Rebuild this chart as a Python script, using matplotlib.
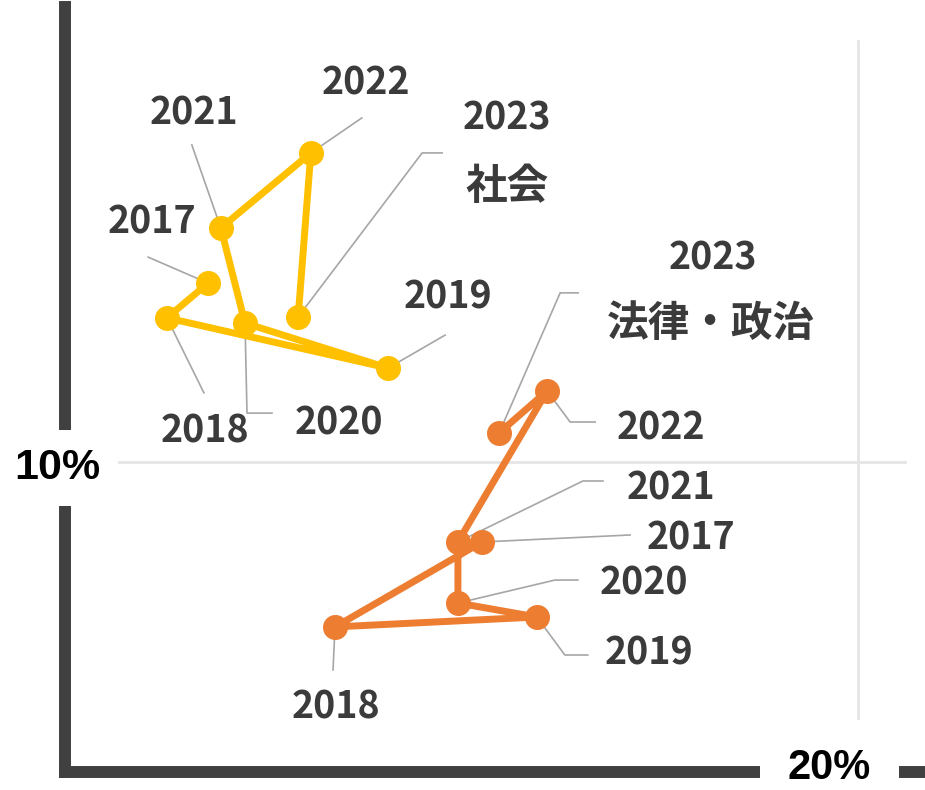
import matplotlib.pyplot as plt

# data (percent)
years = [2017, 2018, 2019, 2020, 2021, 2022, 2023]

social_x = [3.61, 2.57, 8.15, 4.54, 3.93, 6.20, 5.88]
social_y = [15.77, 14.65, 13.03, 14.48, 17.55, 19.97, 14.68]

law_x = [10.52, 6.81, 11.90, 9.91, 9.91, 12.16, 10.95]
law_y = [7.42, 4.68, 5.00, 5.45, 7.42, 12.29, 10.94]

series_names = ["社会", "法律・政治"]
colors = ["#FFC000", "#ED7D31"]

# label placement: text offset (px, y down) and leader path (px) per year
social_labels = {
    2017: ((-56, -61), [(0, 0), (-60, -26)]),
    2018: ((38, 113), [(0, 0), (37, 75)]),
    2019: ((60, -71), [(0, 0), (57, -33)]),
    2020: ((94, 100), [(0, 0), (2, 90), (27, 90)]),
    2021: ((-27, -115), [(0, 0), (-29, -83)]),
    2022: ((55, -70), [(0, 0), (51, -35)]),
    2023: ((209, -199), [(0, 0), (124, -164), (144, -164)]),
}
social_name_offset = (209, -130)

law_labels = {
    2017: ((209, -4), [(0, 0), (148, -7)]),
    2018: ((1, 80), [(0, 0), (-2, 43)]),
    2019: ((112, 36), [(0, 0), (28, 38), (51, 38)]),
    2020: ((186, -20), [(0, 0), (97, -23), (120, -23)]),
    2021: ((213, -54), [(0, 0), (125, -61), (145, -61)]),
    2022: ((114, 37), [(0, 0), (23, 31), (48, 31)]),
    2023: ((214, -175), [(0, 0), (61, -140), (79, -140)]),
}
law_name_offset = (212, -109)

label_font = ["Noto Sans CJK JP", "DejaVu Sans"]
label_color = "#3b3b3b"
leader_color = "#a6a6a6"
axis_color = "#404040"

fig = plt.figure(figsize=(9.25, 7.9), dpi=100)
ax = fig.add_axes([65 / 925, 18 / 790, 860 / 925, 765 / 790])
ax.set_xlim(0, 860 / 39.65)
ax.set_ylim(0, 765 / 31)
ax.set_xticks([])
ax.set_yticks([])

for side in ["top", "right"]:
    ax.spines[side].set_visible(False)
for side in ["left", "bottom"]:
    ax.spines[side].set_color(axis_color)
    ax.spines[side].set_linewidth(8.6)

# light gridlines at 10% and 20%
ax.axhline(10, xmin=0.052, xmax=0.977, color="#e5e5e5", lw=2, zorder=0)
ax.axvline(20, ymin=0.038, ymax=0.956, color="#e5e5e5", lw=2, zorder=0)


def shift(x, y, dx, dy):
    px, py = ax.transData.transform((x, y))
    return ax.transData.inverted().transform((px + dx, py - dy))


def draw_series(xs, ys, color, labels, name, name_offset):
    ax.plot(xs, ys, color=color, lw=5, marker="o", markersize=17,
            solid_joinstyle="round", solid_capstyle="round", zorder=3)
    for x, y, yr in zip(xs, ys, years):
        text_off, path = labels[yr]
        pts = [shift(x, y, dx, dy) for dx, dy in path]
        ax.plot([p[0] for p in pts], [p[1] for p in pts],
                color=leader_color, lw=1.2, zorder=2)
        tx, ty = shift(x, y, *text_off)
        ax.text(tx, ty, str(yr), ha="center", va="center", fontsize=27,
                fontweight="bold", family=label_font, color=label_color)
    # series name under the 2023 label
    nx, ny = shift(xs[-1], ys[-1], *name_offset)
    ax.text(nx, ny, name, ha="center", va="center", fontsize=30,
            fontweight="bold", family=label_font, color=label_color)


draw_series(social_x, social_y, colors[0], social_labels,
            series_names[0], social_name_offset)
draw_series(law_x, law_y, colors[1], law_labels,
            series_names[1], law_name_offset)

# axis value labels, white box cuts a gap in the axis line
ax.text(-0.2, 9.8, "10%", ha="center", va="center", fontsize=31,
        fontweight="bold", family="Liberation Sans", color="black",
        bbox=dict(facecolor="white", edgecolor="none", pad=13), zorder=5)
ax.text(19.28, 0.12, "20%", ha="center", va="center", fontsize=30,
        fontweight="bold", family="Liberation Sans", color="black",
        bbox=dict(facecolor="white", edgecolor="none", pad=20), zorder=5)

plt.savefig("out.png", dpi=100)
